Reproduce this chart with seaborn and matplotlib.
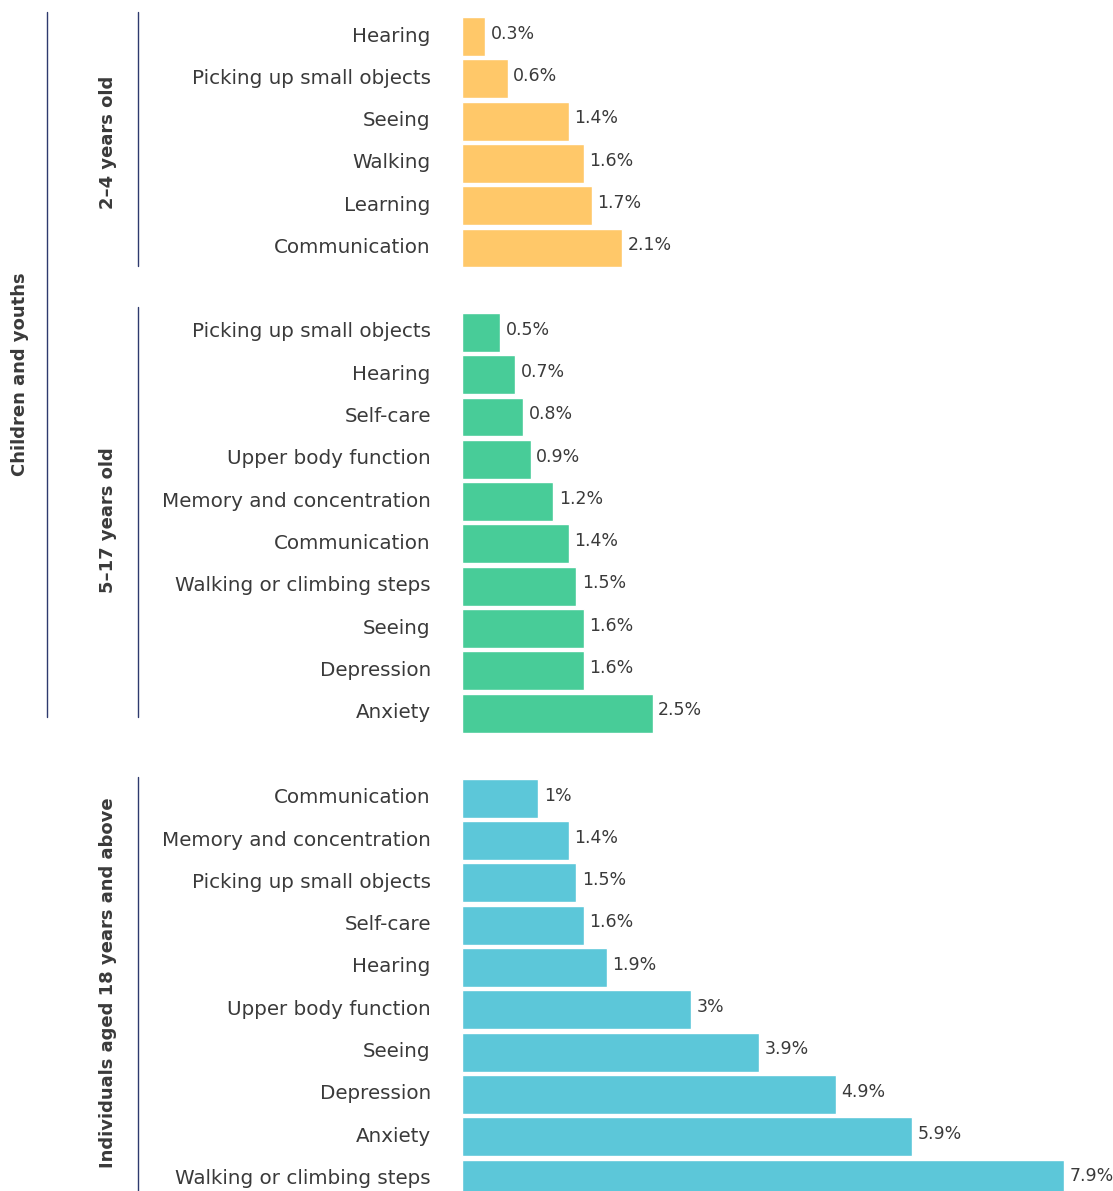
import matplotlib
matplotlib.use("Agg")
import matplotlib.pyplot as plt
from matplotlib.lines import Line2D
from matplotlib.transforms import ScaledTranslation
import seaborn as sns
import pandas as pd

# Prevalence of disability type by age group (percent)
toddler_labels = ["Hearing", "Picking up small objects", "Seeing", "Walking",
                  "Learning", "Communication"]
toddler_values = [0.3, 0.6, 1.4, 1.6, 1.7, 2.1]

youth_labels = ["Picking up small objects", "Hearing", "Self-care",
                "Upper body function", "Memory and concentration",
                "Communication", "Walking or climbing steps", "Seeing",
                "Depression", "Anxiety"]
youth_values = [0.5, 0.7, 0.8, 0.9, 1.2, 1.4, 1.5, 1.6, 1.6, 2.5]

adult_labels = ["Communication", "Memory and concentration",
                "Picking up small objects", "Self-care", "Hearing",
                "Upper body function", "Seeing", "Depression", "Anxiety",
                "Walking or climbing steps"]
adult_values = [1, 1.4, 1.5, 1.6, 1.9, 3, 3.9, 4.9, 5.9, 7.9]

group_titles = ["2–4 years old", "5–17 years old",
                "Individuals aged 18 years and above"]
outer_title = "Children and youths"

COLORS = ["#FFC869", "#48CC98", "#5CC7D9"]
TEXT = "#3a3a3a"
LINE = "#2E3A6E"

sns.set_theme(style="white")
plt.rcParams["font.family"] = ["DejaVu Sans"]

W, H = 1113, 1191
fig = plt.figure(figsize=(W / 100, H / 100), dpi=100)
fig.patch.set_facecolor("white")

BAR_LEFT = 462
BAR_RIGHT = 1110
XMAX = 8.5
PITCH = 42.3


def fx(px):
    return px / W


def fy(py):
    return 1 - py / H


groups = [
    (toddler_labels, toddler_values, 36.5),
    (youth_labels, youth_values, 332.4),
    (adult_labels, adult_values, 798.3),
]

# nudge category labels slightly upward
lift = ScaledTranslation(0, 2.5 / 100, fig.dpi_scale_trans)

for (labels, values, first_center), color in zip(groups, COLORS):
    n = len(labels)
    top = first_center - PITCH / 2
    bottom = top + n * PITCH
    ax = fig.add_axes([fx(BAR_LEFT), fy(bottom), fx(BAR_RIGHT) - fx(BAR_LEFT),
                       (bottom - top) / H])
    df = pd.DataFrame({"label": labels, "value": values})
    sns.barplot(data=df, x="value", y="label", ax=ax, color=color,
                saturation=1, width=0.92, orient="h", errorbar=None)
    ax.set_xlim(0, XMAX)
    ax.set_ylim(n - 0.5, -0.5)
    ax.set_xlabel("")
    ax.set_ylabel("")
    ax.set_xticks([])
    for s in ax.spines.values():
        s.set_visible(False)
    ax.tick_params(axis="y", length=0, pad=22.5, labelsize=14.3,
                   labelcolor=TEXT)
    for t in ax.get_yticklabels():
        t.set_transform(t.get_transform() + lift)
    ax.patch.set_alpha(0)
    for i, v in enumerate(values):
        ax.annotate(f"{v:g}%", xy=(v, i), xytext=(4, 2),
                    textcoords="offset points", ha="left", va="center",
                    fontsize=12.5, color=TEXT)

# Bracket lines for the age groups
for y0, y1 in [(12, 266), (307, 717), (777, 1191)]:
    fig.add_artist(Line2D([fx(138), fx(138)], [fy(y0), fy(y1)],
                          transform=fig.transFigure, color=LINE, lw=1))
fig.add_artist(Line2D([fx(47), fx(47)], [fy(12), fy(717)],
                      transform=fig.transFigure, color=LINE, lw=1))

# Group titles
for title, yc in zip(group_titles, [142, 520, 983]):
    fig.text(fx(108), fy(yc), title, rotation=90, ha="center", va="center",
             fontsize=13, fontweight="bold", color=TEXT)
fig.text(fx(20), fy(374), outer_title, rotation=90, ha="center", va="center",
         fontsize=13, fontweight="bold", color=TEXT)

fig.savefig("out.png", dpi=100, facecolor="white")
